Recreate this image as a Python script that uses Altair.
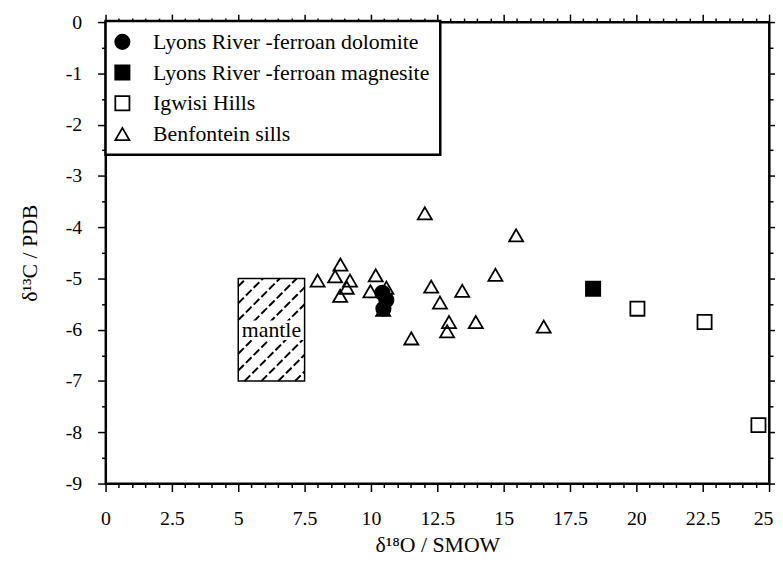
import altair as alt
import pandas as pd

# ---- data ----
series_names = [
    "Lyons River -ferroan dolomite",
    "Lyons River -ferroan magnesite",
    "Igwisi Hills",
    "Benfontein sills",
]
dolomite_x = [10.43, 10.58, 10.47]
dolomite_y = [-5.28, -5.42, -5.59]
magnesite_x = [18.37]
magnesite_y = [-5.20]
igwisi_x = [20.04, 22.57, 24.60]
igwisi_y = [-5.59, -5.85, -7.86]
benfontein_x = [12.03, 15.47, 7.99, 8.85, 8.65, 9.21, 9.09, 8.84, 10.18, 9.98, 10.58,
                10.46, 12.27, 12.60, 13.44, 14.69, 12.94, 12.87, 13.95, 11.52, 16.51]
benfontein_y = [-3.73, -4.16, -5.04, -4.73, -4.96, -5.04, -5.18, -5.34, -4.94, -5.25, -5.18,
                -5.61, -5.16, -5.47, -5.24, -4.93, -5.85, -6.03, -5.85, -6.17, -5.94]

mantle_x = [5.0, 7.5]
mantle_y = [-7.0, -5.0]
mantle_label = "mantle"

x_major = [0, 2.5, 5, 7.5, 10, 12.5, 15, 17.5, 20, 22.5, 25]
y_major = [0, -1, -2, -3, -4, -5, -6, -7, -8, -9]
x_ticks = [i * 0.5 for i in range(51)]
y_ticks = [-i * 0.5 for i in range(19)]

x_title = "δ¹⁸O / SMOW"
y_title = "δ¹³C / PDB"

# ---- tables ----
rows = []
for name, xs_, ys_ in [
    (series_names[3], benfontein_x, benfontein_y),
    (series_names[2], igwisi_x, igwisi_y),
    (series_names[1], magnesite_x, magnesite_y),
    (series_names[0], dolomite_x, dolomite_y),
]:
    for a, b in zip(xs_, ys_):
        rows.append({"series": name, "x": a, "y": b})
points = pd.DataFrame(rows)

W, H = 670, 466
px_x = W / (x_major[-1] - x_major[0])
px_y = H / (y_major[0] - y_major[-1])

box = pd.DataFrame([{"x": mantle_x[0], "x2": mantle_x[1], "y": mantle_y[0], "y2": mantle_y[1]}])

# hatch segments ("/" at 45 degrees in screen space), clipped to the mantle box
bw = (mantle_x[1] - mantle_x[0]) * px_x
bh = (mantle_y[1] - mantle_y[0]) * px_y
hatch = []
c = 8.0
while c < bw + bh:
    p0 = max(0.0, c - bh)
    q0 = c - p0
    p1 = min(bw, c)
    q1 = c - p1
    hatch.append({
        "x": mantle_x[0] + p0 / px_x, "y": mantle_y[1] - q0 / px_y,
        "x2": mantle_x[0] + p1 / px_x, "y2": mantle_y[1] - q1 / px_y,
    })
    c += 17.0
hatch = pd.DataFrame(hatch)

band = pd.DataFrame([{"x": mantle_x[0], "x2": mantle_x[1], "y": -5.82, "y2": -6.2}])
label = pd.DataFrame([{"x": sum(mantle_x) / 2, "y": sum(mantle_y) / 2, "t": mantle_label}])

xs = alt.Scale(domain=[x_major[0], x_major[-1]], nice=False, zero=False)
ys = alt.Scale(domain=[y_major[-1], y_major[0]], nice=False, zero=False)

FONT = "Liberation Serif"

def x_axis(orient, show):
    return alt.Axis(
        orient=orient, values=x_ticks, grid=False, labels=show,
        labelExpr="datum.value % 2.5 === 0 ? '' + datum.value : ''",
        tickSize={"condition": {"test": "datum.value % 2.5 === 0", "value": 8}, "value": 4},
        labelOffset={"condition": {"test": "datum.value === 25", "value": -6}, "value": 0},
        labelOverlap=False, labelFlush=False, labelPadding=17,
        title=x_title if show else None, titlePadding=7,
    )

def y_axis(orient, show):
    return alt.Axis(
        orient=orient, values=y_ticks, grid=False, labels=show,
        labelExpr="datum.value % 1 === 0 ? '' + datum.value : ''",
        tickSize={"condition": {"test": "datum.value % 1 === 0", "value": 8}, "value": 4},
        labelOverlap=False, labelFlush=False, labelPadding=16,
        title=y_title if show else None, titlePadding=24,
    )

box_fill = alt.Chart(box).mark_rect(fill="white").encode(
    x=alt.X("x:Q", scale=xs, axis=x_axis("bottom", True)),
    x2="x2:Q",
    y=alt.Y("y:Q", scale=ys, axis=y_axis("left", True)),
    y2="y2:Q",
)

hatch_layer = alt.Chart(hatch).mark_rule(color="black", strokeWidth=2, strokeDash=[8, 3]).encode(
    x=alt.X("x:Q", scale=xs, axis=None),
    x2="x2:Q",
    y=alt.Y("y:Q", scale=ys, axis=None),
    y2="y2:Q",
)

band_layer = alt.Chart(band).mark_rect(fill="white").encode(
    x=alt.X("x:Q", scale=xs, axis=None),
    x2="x2:Q",
    y=alt.Y("y:Q", scale=ys, axis=None),
    y2="y2:Q",
)

text_layer = alt.Chart(label).mark_text(font=FONT, fontSize=22, color="black", baseline="middle").encode(
    x=alt.X("x:Q", scale=xs, axis=None),
    y=alt.Y("y:Q", scale=ys, axis=None),
    text="t:N",
)

box_border = alt.Chart(box).mark_rect(fill="transparent", stroke="black", strokeWidth=1.5).encode(
    x=alt.X("x:Q", scale=xs, axis=x_axis("top", False)),
    x2="x2:Q",
    y=alt.Y("y:Q", scale=ys, axis=y_axis("right", False)),
    y2="y2:Q",
)

leg = alt.Legend(orient="none", legendX=0, legendY=-1, title=None)
pts = alt.Chart(points).mark_point(strokeWidth=1.8, opacity=1).encode(
    x=alt.X("x:Q", scale=xs, axis=None),
    y=alt.Y("y:Q", scale=ys, axis=None),
    shape=alt.Shape("series:N", scale=alt.Scale(domain=series_names,
                    range=["circle", "square", "square", "triangle-up"]), legend=leg),
    fill=alt.Fill("series:N", scale=alt.Scale(domain=series_names,
                  range=["black", "black", "transparent", "transparent"]), legend=leg),
    stroke=alt.Stroke("series:N", scale=alt.Scale(domain=series_names,
                      range=["black", "black", "black", "black"]), legend=leg),
    size=alt.Size("series:N", scale=alt.Scale(domain=series_names, range=[210, 200, 200, 390]),
                  legend=leg),
)

chart = alt.layer(
    box_fill, hatch_layer, band_layer, text_layer, box_border, pts
).resolve_axis(x="independent", y="independent").properties(
    width=W, height=H,
    autosize=alt.AutoSizeParams(type="none"),
    padding={"left": 98.5, "top": 11.5, "right": 6, "bottom": 76},
    background="white",
).configure_view(
    stroke="black", strokeWidth=2,
).configure_axis(
    domainColor="black", domainWidth=2, tickColor="black", tickWidth=1.5,
    labelFont=FONT, labelFontSize=20, labelColor="black",
    titleFont=FONT, titleFontSize=22, titleFontWeight="normal", titleColor="black",
).configure_legend(
    labelFont=FONT, labelFontSize=22, labelColor="black", labelLimit=500,
    strokeColor="black", strokeWidth=2.5, fillColor="white",
    padding=10, rowPadding=9, labelOffset=20, symbolOffset=-4,
    symbolStrokeColor="black", symbolStrokeWidth=1.8,
)

chart.save("out.html", embed_options={"renderer": "svg", "actions": False})
